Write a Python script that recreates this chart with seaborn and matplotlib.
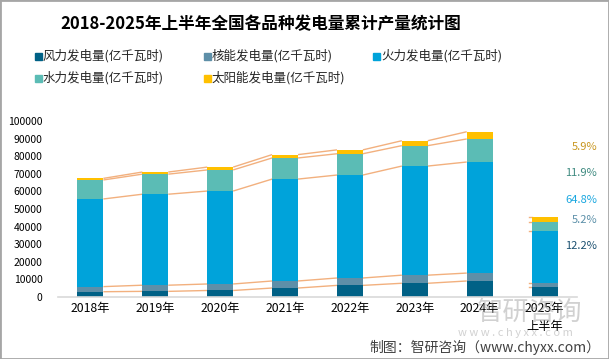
import numpy as np
import pandas as pd
import matplotlib
matplotlib.use('Agg')
import matplotlib.pyplot as plt
import seaborn as sns
from matplotlib.patches import Rectangle

# --- DADOS ---
anos = ['2018年', '2019年', '2020年', '2021年', '2022年', '2023年', '2024年', '2025年\n上半年']
series = ['风力发电量(亿千瓦时)', '核能发电量(亿千瓦时)', '火力发电量(亿千瓦时)',
          '水力发电量(亿千瓦时)', '太阳能发电量(亿千瓦时)']
vento = [3000, 3200, 3700, 5100, 6600, 7800, 9100, 5530]
nuclear = [2900, 3500, 3700, 4000, 4200, 4600, 4500, 2360]
termica = [49800, 51700, 52800, 57900, 58500, 62000, 63100, 29400]
hidro = [10800, 11400, 12000, 12000, 12100, 11600, 13100, 5400]
solar = [900, 1200, 1600, 1900, 2200, 2800, 4100, 2680]

cores = ['#006186', '#5E8FA8', '#00A3DA', '#5BBCB5', '#FFC000']
cores_pct = ['#1B5070', '#5B8FA8', '#1AA7E0', '#3E8A80', '#C8961E']

W, H = 609, 359
plt.rcParams['font.family'] = ['Noto Sans CJK SC', 'DejaVu Sans']

dados = np.array([vento, nuclear, termica, hidro, solar])
acum = np.cumsum(dados, axis=0)

fig = plt.figure(figsize=(W / 100, H / 100), dpi=100)
ax = fig.add_axes([58 / W, (H - 297) / H, 519 / W, 176 / H])

# barras empilhadas: desenha as somas acumuladas de cima para baixo
for k in range(4, -1, -1):
    df = pd.DataFrame({'ano': anos, 'valor': acum[k]})
    sns.barplot(data=df, x='ano', y='valor', color=cores[k], width=0.4,
                saturation=1, linewidth=0, ax=ax, zorder=2)

# linhas de série (2018 -> 2024)
meia = 0.2
for k in range(5):
    for i in range(6):
        ax.plot([i + meia, i + 1 - meia], [acum[k][i], acum[k][i + 1]],
                color='#F2B07E', lw=1.0, zorder=1, solid_capstyle='butt')
    ax.plot([7 - meia - 0.04, 7 - meia], [acum[k][7], acum[k][7]],
            color='#F2B07E', lw=1.0, zorder=1)

ax.set_xlim(-0.5, 7.5)
ax.set_ylim(0, 100000)
ax.set_yticks(range(0, 100001, 10000))
ax.set_yticklabels([str(v) for v in range(0, 100001, 10000)])
ax.set_xticks(range(len(anos)))
ax.set_xticklabels(anos, linespacing=1.5)
ax.set_xlabel('')
ax.set_ylabel('')
ax.tick_params(axis='y', length=0, pad=11, labelsize=7.5, labelcolor='#000000')
ax.tick_params(axis='x', length=0, pad=3.5, labelsize=8.8, labelcolor='#000000')
for s in ['top', 'right', 'left']:
    ax.spines[s].set_visible(False)
ax.spines['bottom'].set_color('#D9D9D9')
ax.spines['bottom'].set_linewidth(1.2)

# título
fig.text(261 / W, 1 - 24 / H, '2018-2025年上半年全国各品种发电量累计产量统计图',
         ha='center', va='center', fontsize=12, fontweight='bold', color='#000000')

# legenda manual (posições do Excel)
pos_leg = [(35, 56), (204, 56), (373, 56), (35, 78), (204, 78)]
for (px, py), nome, cor in zip(pos_leg, series, cores):
    fig.patches.append(Rectangle((px / W, 1 - (py + 3.5) / H), 6.5 / W, 6.5 / H,
                                 transform=fig.transFigure, color=cor))
    fig.text((px + 8) / W, 1 - py / H, nome, ha='left', va='center',
             fontsize=9, color='#262626')

# percentuais do 2025 H1
total_2025 = acum[4][7]
y_pct = [246, 220, 200, 173, 147]
for k in range(5):
    pct = dados[k][7] / total_2025 * 100
    fig.text(597 / W, 1 - y_pct[k] / H, f'{pct:.1f}%', ha='right', va='center',
             fontsize=8, color=cores_pct[k])

# marca d'água
fig.text(530 / W, 1 - 312 / H, '智研咨询', ha='center', va='center',
         fontsize=19, color='#9A9A9A', alpha=0.45, zorder=0)
fig.text(515 / W, 1 - 333 / H, 'w w w . c h y x x . c o m', ha='center', va='center',
         fontsize=8, color='#9A9A9A', alpha=0.45, zorder=0)

# fonte
fig.text(600 / W, 1 - 347 / H, '制图：智研咨询（www.chyxx.com）', ha='right', va='center',
         fontsize=10, color='#404040')

# moldura
fig.patches.append(Rectangle((0, 0), 1, 1, transform=fig.transFigure, fill=False,
                             edgecolor='#A6A6A6', lw=2))

fig.savefig('out.png', dpi=100)
